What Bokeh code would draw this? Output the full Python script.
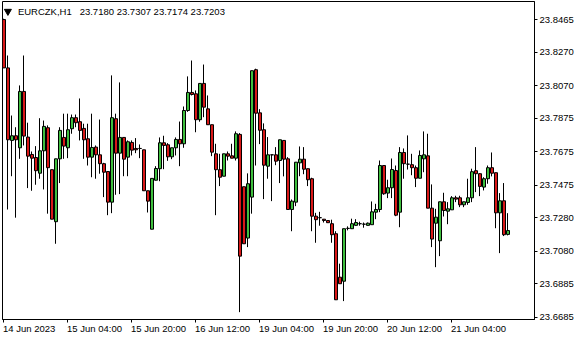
from bokeh.plotting import figure
from bokeh.models import (Range1d, FixedTicker, PrintfTickFormatter, Label, ColumnDataSource,
                          LinearAxis, CustomJSTickFormatter)
from bokeh.embed import file_html
from bokeh.resources import INLINE

symbol = "EURCZK,H1"

opens = [23.8465, 23.8176, 23.7742, 23.7770, 23.7698, 23.8035, 23.7762, 23.7658, 23.7640, 23.7546,
         23.7680, 23.7818, 23.7567, 23.7256, 23.7632, 23.7760, 23.7698, 23.7812, 23.7878, 23.7854,
         23.7814, 23.7752, 23.7642, 23.7702, 23.7656, 23.7603, 23.7556, 23.7373, 23.7872, 23.7666,
         23.7760, 23.7642, 23.7730, 23.7694, 23.7694, 23.7686, 23.7441, 23.7211, 23.7504, 23.7573,
         23.7728, 23.7716, 23.7644, 23.7698, 23.7748, 23.7722, 23.7921, 23.8029, 23.8021, 23.7866,
         23.8083, 23.7931, 23.7836, 23.7662, 23.7567, 23.7528, 23.7662, 23.7650, 23.7636, 23.7778,
         23.7465, 23.7158, 23.7403, 23.8165, 23.7907, 23.7806, 23.7588, 23.7656, 23.7656, 23.7622,
         23.7742, 23.7632, 23.7329, 23.7373, 23.7608, 23.7630, 23.7573, 23.7513, 23.7289, 23.7280,
         23.7271, 23.7263, 23.7244, 23.7184, 23.6924, 23.6900, 23.7216, 23.7214, 23.7234, 23.7244,
         23.7241, 23.7234, 23.7238, 23.7313, 23.7329, 23.7592, 23.7427, 23.7459, 23.7562, 23.7313,
         23.7670, 23.7600, 23.7597, 23.7579, 23.7516, 23.7632, 23.7650, 23.7337, 23.7247, 23.7142,
         23.7375, 23.7319, 23.7327, 23.7399, 23.7399, 23.7357, 23.7371, 23.7399, 23.7561, 23.7543,
         23.7463, 23.7513, 23.7579, 23.7549, 23.7309, 23.7381, 23.7180]

highs = [23.8470, 23.8250, 23.7891, 23.7821, 23.8071, 23.8250, 23.7848, 23.7676, 23.7708, 23.7875,
         23.7861, 23.7832, 23.7567, 23.7632, 23.7821, 23.7902, 23.7902, 23.7897, 23.7897, 23.7993,
         23.7842, 23.7842, 23.7902, 23.7712, 23.7867, 23.7608, 23.7556, 23.8131, 23.7902, 23.8089,
         23.7760, 23.7742, 23.7742, 23.7756, 23.7718, 23.7686, 23.7441, 23.7515, 23.7588, 23.7760,
         23.7770, 23.7726, 23.7698, 23.7760, 23.7855, 23.7945, 23.8125, 23.8220, 23.8041, 23.8083,
         23.8196, 23.8011, 23.7836, 23.7722, 23.7662, 23.7662, 23.7676, 23.7722, 23.7796, 23.7786,
         23.7465, 23.7545, 23.8159, 23.8171, 23.7929, 23.7844, 23.7762, 23.7656, 23.7702, 23.7746,
         23.7742, 23.7642, 23.7389, 23.7612, 23.7706, 23.7702, 23.7573, 23.7519, 23.7309, 23.7315,
         23.7271, 23.7263, 23.7268, 23.7199, 23.7005, 23.7214, 23.7228, 23.7274, 23.7271, 23.7256,
         23.7251, 23.7251, 23.7377, 23.7363, 23.7622, 23.7592, 23.7507, 23.7634, 23.7592, 23.7702,
         23.7694, 23.7772, 23.7662, 23.7592, 23.7682, 23.7796, 23.7782, 23.7479, 23.7333, 23.7375,
         23.7429, 23.7373, 23.7409, 23.7411, 23.7411, 23.7375, 23.7513, 23.7573, 23.7702, 23.7546,
         23.7522, 23.7592, 23.7670, 23.7549, 23.7427, 23.7487, 23.7307]

lows = [23.8175, 23.7329, 23.7528, 23.7280, 23.7632, 23.7712, 23.7457, 23.7441, 23.7477, 23.7513,
        23.7449, 23.7304, 23.7271, 23.7124, 23.7487, 23.7632, 23.7636, 23.7782, 23.7821, 23.7742,
        23.7632, 23.7592, 23.7522, 23.7513, 23.7543, 23.7403, 23.7295, 23.7307, 23.7417, 23.7421,
        23.7528, 23.7528, 23.7652, 23.7666, 23.7636, 23.7441, 23.7311, 23.7211, 23.7503, 23.7498,
        23.7570, 23.7620, 23.7630, 23.7652, 23.7588, 23.7698, 23.7913, 23.8011, 23.7791, 23.7854,
        23.7881, 23.7836, 23.7648, 23.7295, 23.7469, 23.7528, 23.7622, 23.7636, 23.7622, 23.6715,
        23.7124, 23.7104, 23.7304, 23.7592, 23.7720, 23.7391, 23.7513, 23.7379, 23.7594, 23.7487,
        23.7527, 23.7329, 23.7199, 23.7349, 23.7528, 23.7540, 23.7469, 23.7199, 23.7130, 23.7232,
        23.7251, 23.7250, 23.7130, 23.6789, 23.6885, 23.6781, 23.7204, 23.7214, 23.7234, 23.7232,
        23.7220, 23.7234, 23.7238, 23.7271, 23.7313, 23.7417, 23.7397, 23.7397, 23.7289, 23.7223,
        23.7513, 23.7568, 23.7534, 23.7463, 23.7516, 23.7552, 23.7337, 23.7104, 23.6984, 23.7050,
        23.7287, 23.7241, 23.7327, 23.7373, 23.7343, 23.7343, 23.7357, 23.7373, 23.7433, 23.7409,
        23.7443, 23.7483, 23.7527, 23.7217, 23.7068, 23.7170, 23.7174]

closes = [23.8176, 23.7746, 23.7770, 23.7746, 23.8035, 23.7768, 23.7648, 23.7636, 23.7561, 23.7680,
          23.7826, 23.7579, 23.7271, 23.7632, 23.7802, 23.7708, 23.7806, 23.7878, 23.7848, 23.7802,
          23.7746, 23.7642, 23.7700, 23.7656, 23.7603, 23.7552, 23.7373, 23.7878, 23.7666, 23.7760,
          23.7630, 23.7734, 23.7684, 23.7686, 23.7694, 23.7441, 23.7379, 23.7515, 23.7574, 23.7728,
          23.7712, 23.7644, 23.7698, 23.7748, 23.7722, 23.7921, 23.8029, 23.8017, 23.7866, 23.8083,
          23.7941, 23.7836, 23.7672, 23.7567, 23.7522, 23.7662, 23.7648, 23.7636, 23.7782, 23.7050,
          23.7124, 23.7483, 23.8159, 23.7905, 23.7803, 23.7594, 23.7656, 23.7656, 23.7618, 23.7746,
          23.7630, 23.7329, 23.7379, 23.7612, 23.7630, 23.7570, 23.7507, 23.7289, 23.7268, 23.7280,
          23.7263, 23.7250, 23.7178, 23.6789, 23.6885, 23.7214, 23.7216, 23.7244, 23.7251, 23.7244,
          23.7241, 23.7247, 23.7315, 23.7329, 23.7592, 23.7423, 23.7459, 23.7568, 23.7295, 23.7670,
          23.7603, 23.7600, 23.7579, 23.7516, 23.7652, 23.7656, 23.7337, 23.7152, 23.7283, 23.7375,
          23.7323, 23.7333, 23.7399, 23.7391, 23.7357, 23.7375, 23.7399, 23.7555, 23.7543, 23.7467,
          23.7513, 23.7579, 23.7546, 23.7309, 23.7381, 23.7178, 23.7203]

time_tick_bars = [0, 16, 32, 48, 64, 80, 96, 112]
time_tick_labels = ["14 Jun 2023", "15 Jun 04:00", "15 Jun 20:00", "16 Jun 12:00",
                    "19 Jun 04:00", "19 Jun 20:00", "20 Jun 12:00", "21 Jun 04:00"]
price_ticks = [23.6685, 23.6885, 23.7080, 23.7280, 23.7475, 23.7675,
               23.7875, 23.8070, 23.8270, 23.8465]

assert len(opens) == len(highs) == len(lows) == len(closes) == 127

BULL = "#3fbf3f"
BEAR = "#d81818"
FONT = "Liberation Sans"
FS = "9.5px"
PX_PER_BAR = 4.0
CHAR_W = {" ": 2.64, ":": 2.64, "J": 4.75}

n = len(opens)
idx = list(range(n))
src = ColumnDataSource(dict(
    x=idx, bx=[i + 0.5 / PX_PER_BAR for i in idx], o=opens, h=highs, l=lows, c=closes,
    top=[max(a, b) for a, b in zip(opens, closes)],
    bot=[min(a, b) for a, b in zip(opens, closes)],
    col=[BULL if c >= o else BEAR for o, c in zip(opens, closes)],
))

x0, x1 = -0.25, 132.75
y0, y1 = 23.6671, 23.8573

p = figure(width=580, height=340, x_range=Range1d(x0, x1), y_range=Range1d(y0, y1),
           y_axis_location="right", toolbar_location=None, output_backend="svg",
           min_border_left=2, min_border_right=46, min_border_top=1, min_border_bottom=21)
p.background_fill_color = "white"
p.border_fill_color = "white"
p.outline_line_color = "black"
p.outline_line_width = 1
p.grid.visible = False

p.segment(x0="x", y0="h", x1="x", y1="l", source=src, line_color="black", line_width=1)
p.vbar(x="bx", width=3 / PX_PER_BAR, top="top", bottom="bot", source=src,
       fill_color="col", line_color="black", line_width=1)

# tick marks (no labels)
xa = p.xaxis[0]
xa.ticker = FixedTicker(ticks=time_tick_bars)
xa.formatter = CustomJSTickFormatter(code="return ''")
xa.major_label_text_font_size = "1px"
xa.major_tick_out = 3
xa.major_tick_in = 0
xa.minor_tick_out = 0
xa.minor_tick_in = 0
xa.major_label_standoff = 0
xa.axis_line_color = "black"

# left-aligned time labels: centred at tick + half of the text width
centers = [b + sum(CHAR_W.get(ch, 5.28) for ch in s) / 2 / PX_PER_BAR - 0.1
           for b, s in zip(time_tick_bars, time_tick_labels)]
la = LinearAxis(ticker=FixedTicker(ticks=centers),
                formatter=CustomJSTickFormatter(args=dict(labels=time_tick_labels),
                                                code="return labels[index]"),
                axis_line_color=None, major_tick_line_color=None, minor_tick_line_color=None,
                major_tick_out=0, major_tick_in=0, minor_tick_out=0, minor_tick_in=0,
                major_label_standoff=0, major_label_text_font=FONT,
                major_label_text_font_size=FS, major_label_text_color="black")
p.add_layout(la, "below")

ya = p.yaxis[0]
ya.ticker = FixedTicker(ticks=price_ticks)
ya.formatter = PrintfTickFormatter(format="%.4f")
ya.major_label_text_font = FONT
ya.major_label_text_font_size = FS
ya.major_label_text_color = "black"
ya.major_tick_out = 3
ya.major_tick_in = 0
ya.minor_tick_out = 0
ya.minor_tick_in = 0
ya.major_label_standoff = 2
ya.axis_line_color = "black"

title_text = "%s\u00a0\u00a0 %.4f %.4f %.4f %.4f" % (symbol, opens[-1], highs[-1], lows[-1], closes[-1])
p.scatter(x=[1.1], y=[23.8514], marker="inverted_triangle", size=7, fill_color="black", line_color="black")
p.add_layout(Label(x=3.6, y=23.8513, text=title_text, text_font=FONT, text_font_size=FS,
                   text_color="black", text_baseline="middle", text_align="left"))

p.add_layout(Label(x=x1, y=closes[-1], x_offset=3, text="%.4f" % closes[-1], text_font=FONT,
                   text_font_size=FS, text_color="white", text_baseline="middle", text_align="left",
                   background_fill_color="black", padding=2))

open("out.html", "w").write(file_html(p, INLINE))
